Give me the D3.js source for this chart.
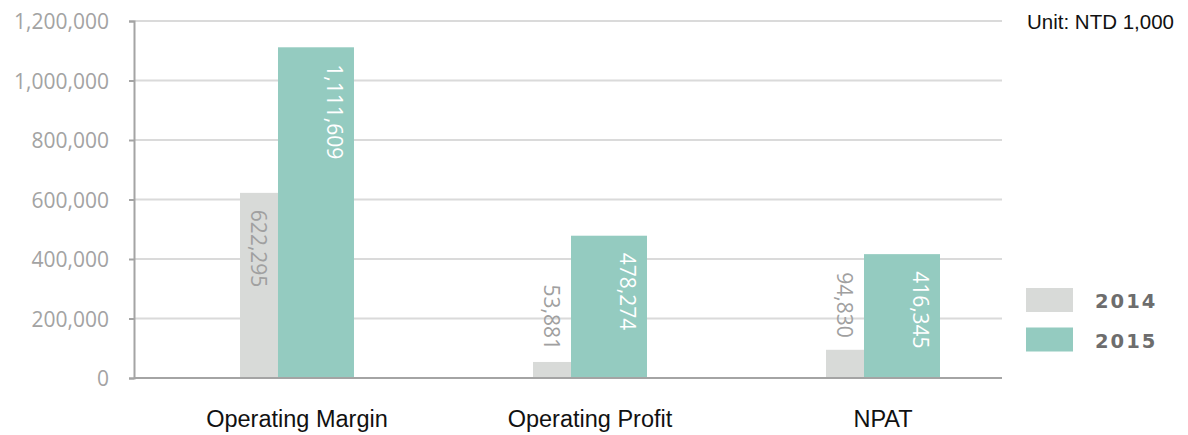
<!DOCTYPE html>
<html>
<head>
<meta charset="utf-8">
<script src="https://cdn.jsdelivr.net/npm/d3@7"></script>
<style>
  html, body { margin: 0; padding: 0; background: #fff; }
  svg { display: block; }
</style>
</head>
<body>
<svg id="chart" width="1188" height="435"></svg>
<script>
// Financial results by year (unit: NTD 1,000)
const categories = ["Operating Margin", "Operating Profit", "NPAT"];
const years = ["2014", "2015"];
const values2014 = [622295, 53881, 94830];
const values2015 = [1111609, 478274, 416345];
const yTicks = [0, 200000, 400000, 600000, 800000, 1000000, 1200000];
const unitLabel = "Unit: NTD 1,000";

const colors = { "2014": "#d8dad8", "2015": "#94cbc0" };

const svg = d3.select("#chart");
const plot = { left: 134, right: 1002, top: 21, bottom: 378 };

const y = d3.scaleLinear().domain([0, 1200000]).range([plot.bottom, plot.top]);

// category groups; each group holds a narrow 2014 bar and a wider 2015 bar
const x = d3.scaleBand().domain(categories).range([240, 940]).paddingInner(0.611).paddingOuter(0);
const sub = d3.scaleLinear().domain([0, 3]).range([0, x.bandwidth()]);

const fmt = d3.format(",");

// gridlines
svg.append("g")
  .selectAll("line")
  .data(yTicks.filter(d => d > 0))
  .join("line")
  .attr("x1", plot.left).attr("x2", plot.right)
  .attr("y1", d => y(d)).attr("y2", d => y(d))
  .attr("stroke", "#dadada").attr("stroke-width", 2);

// y axis
const yAxis = svg.append("g")
  .attr("transform", `translate(${plot.left},0)`)
  .call(d3.axisLeft(y).tickValues(yTicks).tickFormat(fmt).tickSize(5).tickPadding(20));
yAxis.select(".domain").attr("stroke", "#a4a4a4").attr("stroke-width", 2);
yAxis.selectAll(".tick line").attr("stroke", "#a4a4a4").attr("stroke-width", 2);
yAxis.selectAll(".tick text")
  .attr("font-family", "'Open Sans', sans-serif")
  .attr("font-size", 21)
  .attr("fill", "#a3a3a3")
  .attr("dy", "0.36em");

// bars
const rows = categories.map((c, i) => ({ cat: c, v2014: values2014[i], v2015: values2015[i] }));
const bars = [];
rows.forEach(r => {
  bars.push({ cat: r.cat, year: "2014", value: r.v2014, x0: x(r.cat) + sub(0), w: sub(1) - sub(0), labelPos: 0.5, labelFill: "#a0a0a0" });
  bars.push({ cat: r.cat, year: "2015", value: r.v2015, x0: x(r.cat) + sub(1), w: sub(3) - sub(1), labelPos: 0.75, labelFill: "#ffffff" });
});

svg.append("g")
  .selectAll("rect")
  .data(bars)
  .join("rect")
  .attr("x", d => d.x0)
  .attr("width", d => d.w)
  .attr("y", d => y(d.value))
  .attr("height", d => y(0) - y(d.value))
  .attr("fill", d => colors[d.year]);

// x baseline
svg.append("line")
  .attr("x1", plot.left).attr("x2", plot.right)
  .attr("y1", y(0)).attr("y2", y(0))
  .attr("stroke", "#a4a4a4").attr("stroke-width", 2);

// vertical value labels
const labels = svg.append("g")
  .selectAll("text")
  .data(bars)
  .join("text")
  .attr("font-family", "'Open Sans', sans-serif")
  .attr("font-size", 21)
  .attr("dy", "0.36em")
  .text(d => fmt(d.value));

labels.each(function(d) {
  const t = d3.select(this);
  const len = this.getComputedTextLength();
  const cx = d.x0 + d.w * d.labelPos;
  const top = y(d.value);
  const barH = y(0) - top;
  if (barH > len + 30) {
    t.attr("text-anchor", "start")
     .attr("transform", `translate(${cx},${top + 17}) rotate(90)`)
     .attr("fill", d.labelFill);
  } else {
    t.attr("text-anchor", "end")
     .attr("transform", `translate(${cx},${top - 12}) rotate(90)`)
     .attr("fill", "#a0a0a0");
  }
});

// category labels
svg.append("g")
  .selectAll("text")
  .data(categories)
  .join("text")
  .attr("x", d => x(d) + x.bandwidth() / 2)
  .attr("y", 427)
  .attr("text-anchor", "middle")
  .attr("font-family", "'Liberation Sans', Arial, sans-serif")
  .attr("font-size", 23.5)
  .attr("fill", "#111")
  .text(d => d);

// unit note
svg.append("text")
  .attr("x", 1174).attr("y", 29)
  .attr("text-anchor", "end")
  .attr("font-family", "'Liberation Sans', Arial, sans-serif")
  .attr("font-size", 20.5)
  .attr("fill", "#111")
  .text(unitLabel);

// legend
const legend = svg.append("g").attr("transform", "translate(1026,288)");
const item = legend.selectAll("g")
  .data(years)
  .join("g")
  .attr("transform", (d, i) => `translate(0,${i * 39.5})`);
item.append("rect")
  .attr("width", 47).attr("height", 24)
  .attr("fill", d => colors[d]);
item.append("text")
  .attr("x", 69).attr("y", 20)
  .attr("font-family", "'DejaVu Sans', sans-serif")
  .attr("font-weight", "bold")
  .attr("font-size", 19.5)
  .attr("letter-spacing", 2)
  .attr("fill", "#6d6d6d")
  .text(d => d);
</script>
</body>
</html>
